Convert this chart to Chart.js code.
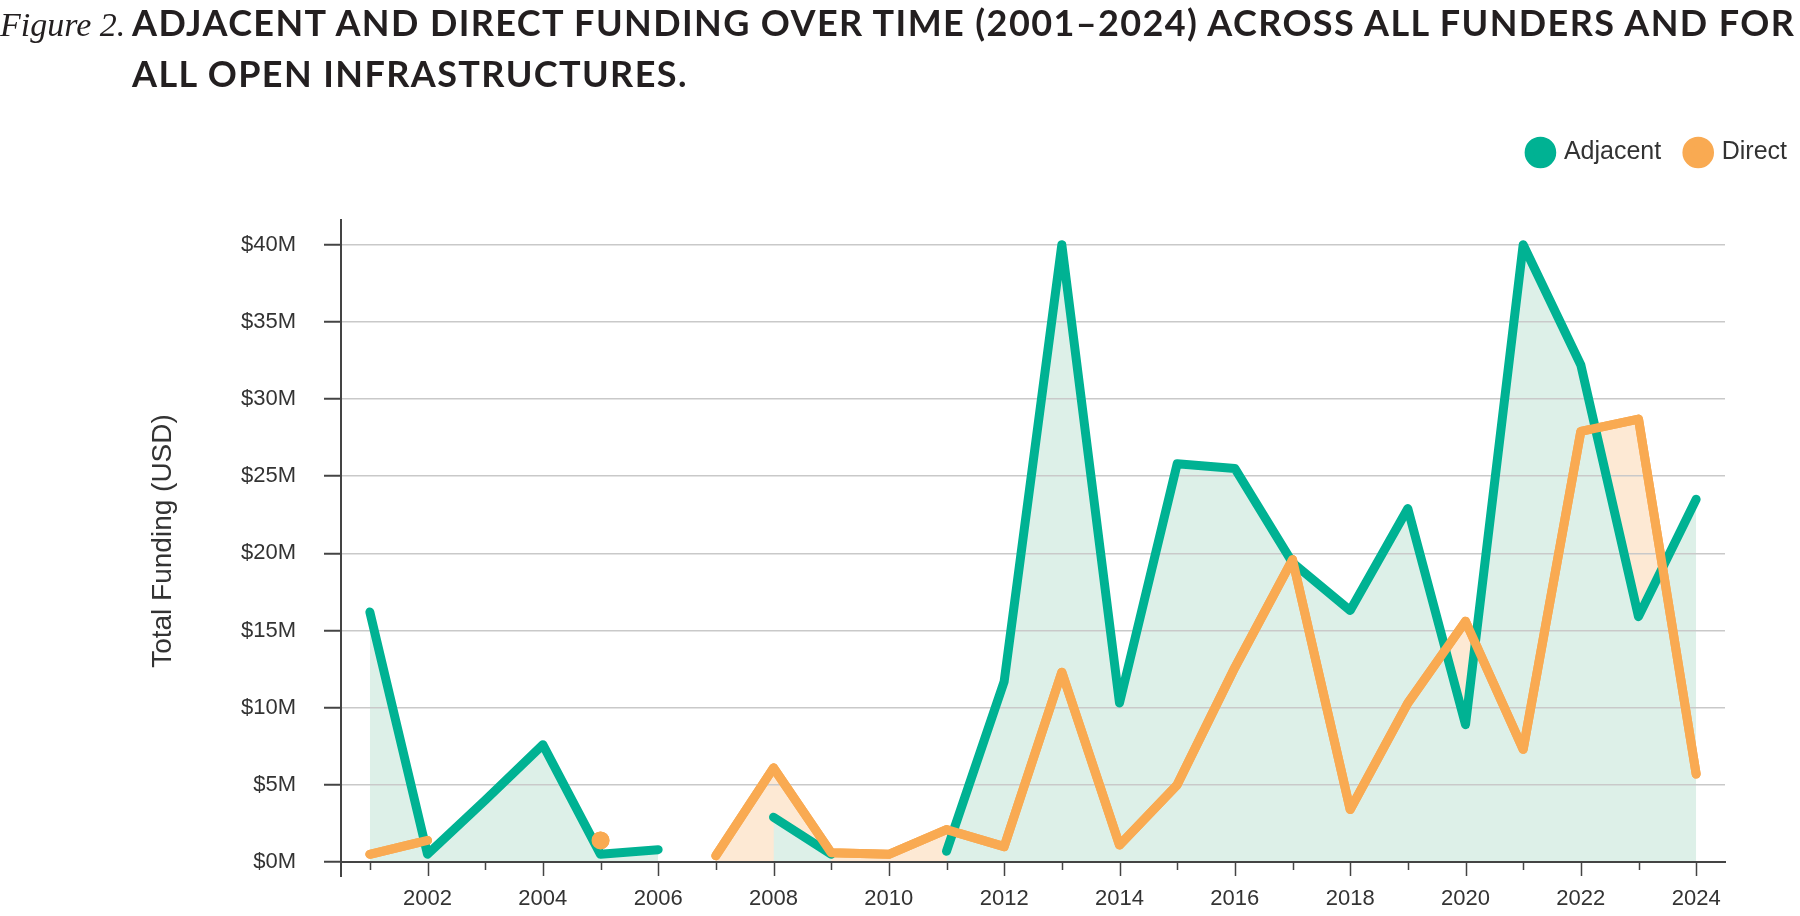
<!DOCTYPE html>
<html>
<head>
<meta charset="utf-8">
<script src="https://cdn.jsdelivr.net/npm/chart.js@4.4.1/dist/chart.umd.min.js"></script>
<style>
  body { margin: 0; background: #fff; }
  .wrap { position: relative; width: 1800px; height: 916px; }
  canvas { position: absolute; left: 0; top: 0; }
  .title {
    position: absolute; left: 132px; top: -2px;
    font-family: Lato, sans-serif; font-weight: 700; font-size: 36px;
    letter-spacing: 1.4px; line-height: 48px; color: #231f20; white-space: nowrap;
  }
  .title .fig {
    display: inline-block; width: 132px; margin-left: -132px;
    font-family: "Liberation Serif", serif; font-style: italic; font-weight: 400;
    font-size: 34px; letter-spacing: 0;
  }
</style>
</head>
<body>
<div class="wrap">
  <canvas id="chart" width="1800" height="916"></canvas>
  <div class="title"><span class="fig">Figure 2.</span>ADJACENT AND DIRECT FUNDING OVER TIME (2001–2024) ACROSS ALL FUNDERS AND FOR<br>ALL OPEN INFRASTRUCTURES.</div>
</div>
<script>
// values in millions of USD
const years = [2001, 2002, 2003, 2004, 2005, 2006, 2007, 2008, 2009, 2010, 2011, 2012,
               2013, 2014, 2015, 2016, 2017, 2018, 2019, 2020, 2021, 2022, 2023, 2024];
const adjacent = [16.2, 0.5, 4.0, 7.6, 0.5, 0.8, null, 2.9, 0.5, null, 0.7, 11.7,
                  40.0, 10.3, 25.8, 25.5, 19.4, 16.3, 22.9, 8.9, 40.0, 32.2, 15.9, 23.5];
const direct = [0.5, 1.4, null, null, 1.4, null, 0.4, 6.1, 0.6, 0.5, 2.1, 1.0,
                12.3, 1.1, 5.0, 12.6, 19.6, 3.4, 10.3, 15.6, 7.3, 27.9, 28.7, 5.7];

const GREEN = '#00B293';
const ORANGE = '#F9AA52';
const GREEN_FILL = '#DDF0E8';
const ORANGE_FILL = '#FDE9D4';
const AXIS = '#444444';
const GRID = '#C9C9C9';
const TEXT = '#333333';

Chart.defaults.font.family = '"Liberation Sans", Arial, sans-serif';

// single points with no neighbours need a dot, the line alone draws nothing
const loneDot = (data) => (ctx) => {
  const i = ctx.dataIndex;
  return data[i] != null && data[i - 1] == null && data[i + 1] == null ? 4.5 : 0;
};

// extra room between legend and plot
const legendSpacing = {
  id: 'legendSpacing',
  beforeInit(chart) {
    const fitValue = chart.legend.fit;
    chart.legend.fit = function fit() {
      fitValue.bind(chart.legend)();
      this.height += 45;
    };
  }
};

// long ticks on labelled years, short ones between; y axis runs past the x axis
const axisTicks = {
  id: 'axisTicks',
  afterDraw(chart) {
    const { ctx, chartArea, scales: { x } } = chart;
    ctx.save();
    ctx.strokeStyle = AXIS;
    ctx.lineWidth = 2;
    ctx.beginPath();
    ctx.moveTo(chartArea.left, chartArea.bottom);
    ctx.lineTo(chartArea.left, chartArea.bottom + 15);
    ctx.stroke();
    ctx.lineWidth = 1.5;
    ctx.beginPath();
    years.forEach((year, i) => {
      const px = Math.round(x.getPixelForValue(i)) + 0.5;
      ctx.moveTo(px, chartArea.bottom + 1);
      ctx.lineTo(px, chartArea.bottom + (year % 2 === 0 ? 14 : 8));
    });
    ctx.stroke();
    ctx.restore();
  }
};

// fills are drawn with green on top, but the orange line should sit above the green one
const directOnTop = {
  id: 'directOnTop',
  afterDatasetsDraw(chart) {
    chart.getDatasetMeta(1).controller.draw();
  }
};

new Chart(document.getElementById('chart'), {
  type: 'line',
  data: {
    labels: years,
    datasets: [
      {
        label: 'Adjacent',
        data: adjacent,
        order: 0,
        borderColor: GREEN,
        backgroundColor: GREEN_FILL,
        pointBackgroundColor: GREEN,
        pointBorderColor: GREEN,
        pointRadius: loneDot(adjacent),
        borderWidth: 9,
        borderJoinStyle: 'round',
        borderCapStyle: 'round',
        fill: 'origin',
        tension: 0
      },
      {
        label: 'Direct',
        data: direct,
        order: 1,
        borderColor: ORANGE,
        backgroundColor: ORANGE_FILL,
        pointBackgroundColor: ORANGE,
        pointBorderColor: ORANGE,
        pointRadius: loneDot(direct),
        borderWidth: 9,
        borderJoinStyle: 'round',
        borderCapStyle: 'round',
        fill: 'origin',
        tension: 0
      }
    ]
  },
  options: {
    responsive: false,
    animation: false,
    events: [],
    layout: { padding: { top: 114, right: -13, bottom: 0, left: 0 } },
    plugins: {
      filler: { drawTime: 'beforeDraw' },
      tooltip: { enabled: false },
      legend: {
        position: 'top',
        align: 'end',
        labels: {
          usePointStyle: true,
          pointStyle: 'circle',
          boxWidth: 22,
          boxHeight: 16,
          padding: 26,
          color: TEXT,
          font: { size: 25 }
        }
      }
    },
    scales: {
      x: {
        offset: true,
        grid: {
          display: true,
          drawOnChartArea: false,
          drawTicks: true,
          tickLength: 14,
          color: 'rgba(0,0,0,0)',
          tickColor: 'rgba(0,0,0,0)'
        },
        border: { display: true, color: AXIS, width: 2 },
        ticks: {
          autoSkip: false,
          maxRotation: 0,
          padding: 10,
          color: TEXT,
          font: { size: 22 },
          callback: (v, i) => (years[i] % 2 === 0 ? String(years[i]) : '')
        },
        afterFit: (s) => { s.height = 54; }
      },
      y: {
        min: 0,
        max: 41.6,
        ticks: {
          stepSize: 5,
          includeBounds: false,
          padding: 28,
          color: TEXT,
          font: { size: 22 },
          callback: (v) => '$' + v + 'M'
        },
        grid: {
          color: (ctx) => (ctx.tick && ctx.tick.value === 0 ? AXIS : GRID),
          lineWidth: 1.5,
          tickColor: AXIS,
          tickLength: 17,
          tickWidth: 2
        },
        border: { color: AXIS, width: 2 },
        title: {
          display: true,
          text: 'Total Funding (USD)',
          color: TEXT,
          font: { size: 28 },
          padding: { top: 146, bottom: 0 }
        },
        afterFit: (s) => { s.width = 341; }
      },
      yRight: {
        position: 'right',
        display: true,
        grid: { display: false },
        border: { display: false },
        ticks: { display: false },
        afterFit: (s) => { s.width = 88; }
      }
    }
  },
  plugins: [legendSpacing, axisTicks, directOnTop]
});
</script>
</body>
</html>
